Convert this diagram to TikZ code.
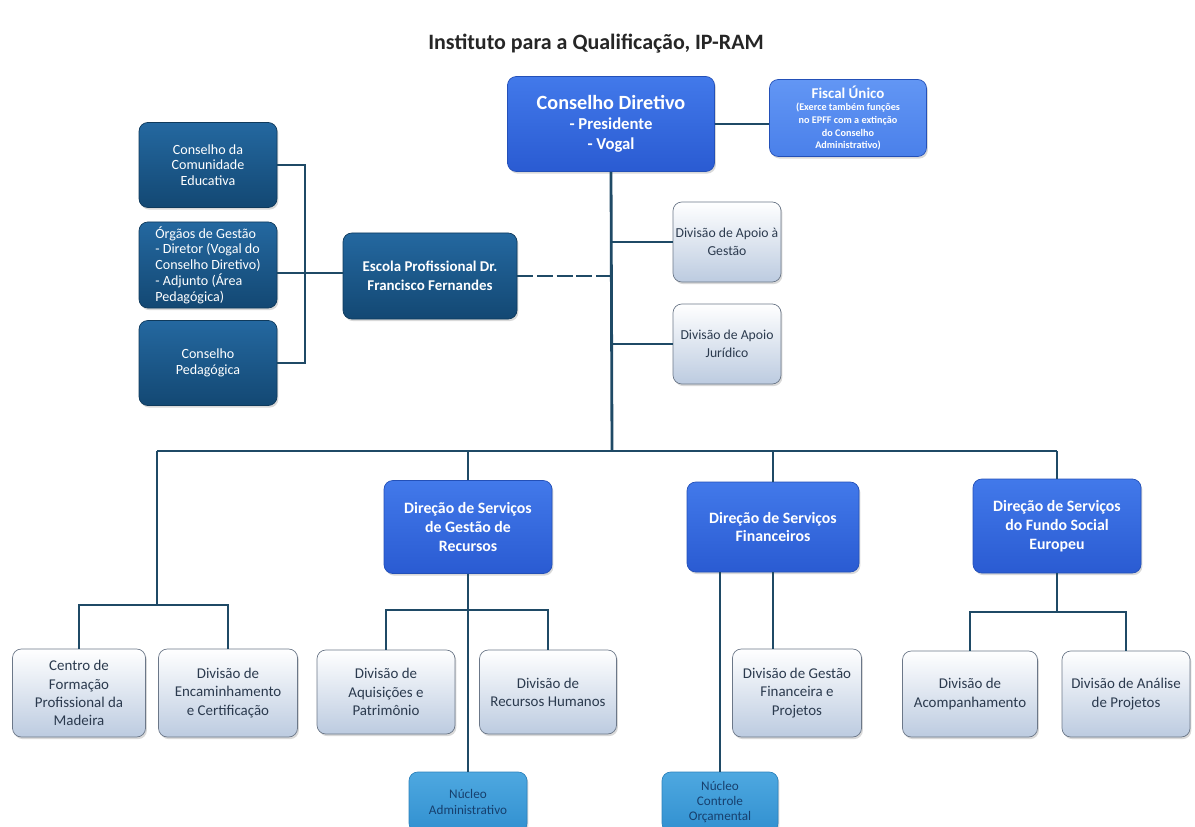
\documentclass[tikz,border=0pt]{standalone}
\usepackage{fontspec}
\setmainfont{Carlito}
\usetikzlibrary{shadows}
\definecolor{lineNavy}{HTML}{1F4A66}
\definecolor{darkTop}{HTML}{2468A0}
\definecolor{darkBottom}{HTML}{134873}
\definecolor{darkEdge}{HTML}{0F3A5C}
\definecolor{blueTop}{HTML}{4279EA}
\definecolor{blueBottom}{HTML}{2A5BD2}
\definecolor{blueEdge}{HTML}{2350B8}
\definecolor{fiscalTop}{HTML}{6296F4}
\definecolor{fiscalBottom}{HTML}{4A80EA}
\definecolor{lightBottom}{HTML}{BCCBE0}
\definecolor{lightEdge}{HTML}{6B7788}
\definecolor{lightText}{HTML}{2B3A4E}
\definecolor{nucleoTop}{HTML}{4EA8E0}
\definecolor{nucleoBottom}{HTML}{3190D0}
\definecolor{nucleoEdge}{HTML}{2C82BC}
\definecolor{nucleoText}{HTML}{17406E}
\begin{document}
\begin{tikzpicture}
[x=0.02cm,y=-0.02cm,
  lineDecorate/.style={-,line width=1.6pt,draw=lineNavy},
  boxDecorate/.style={shape=rectangle,rounded corners=5pt,align=center,inner sep=1pt,
    drop shadow={opacity=0.3,shadow xshift=0.8pt,shadow yshift=-1.2pt}},
  darkDecorate/.style={boxDecorate,draw=darkEdge,top color=darkTop,bottom color=darkBottom,
    text=white,font=\fontsize{8}{9}\selectfont},
  blueDecorate/.style={boxDecorate,draw=blueEdge,top color=blueTop,bottom color=blueBottom,
    text=white,font=\bfseries\fontsize{9}{10.8}\selectfont},
  lightDecorate/.style={boxDecorate,draw=lightEdge,top color=white,bottom color=lightBottom,
    text=lightText,font=\fontsize{8.5}{10.4}\selectfont},
  nucleoDecorate/.style={boxDecorate,draw=nucleoEdge,top color=nucleoTop,bottom color=nucleoBottom,
    text=nucleoText,font=\fontsize{7.5}{8.8}\selectfont},
  scale=1]
\useasboundingbox (0,0) rectangle (1195,827);
%% title
\node (title) at (596,44) [text=black!85,font=\bfseries\fontsize{12.5}{14}\selectfont]
  {Instituto para a Qualificação, IP-RAM};
%% top boxes
\node (cdir) at (611,124) [blueDecorate,minimum width=207*0.02cm,minimum height=95*0.02cm,
  font=\bfseries\fontsize{9.5}{11.5}\selectfont]
  {{\fontsize{11.5}{14}\selectfont Conselho Diretivo}\\- Presidente\\- Vogal};
\node (fiscal) at (848,118) [boxDecorate,draw=blueEdge,top color=fiscalTop,bottom color=fiscalBottom,
  text=white,minimum width=157*0.02cm,minimum height=77*0.02cm,
  font=\bfseries\fontsize{5.8}{7.2}\selectfont]
  {{\fontsize{8.5}{10}\selectfont Fiscal Único}\\(Exerce também funções\\no EPFF com a extinção\\do Conselho\\Administrativo)};
%% left boxes
\foreach \nodename/\x/\y/\txt in {
  ccomun/208/165/{Conselho da\\Comunidade\\Educativa},
  cpedag/208/363/{Conselho\\Pedagógica}}
{
  \node (\nodename) at (\x,\y) [darkDecorate,minimum width=138*0.02cm,minimum height=85*0.02cm] {\txt};
}
\node (orgaos) at (208,265) [darkDecorate,align=left,minimum width=138*0.02cm,minimum height=86*0.02cm]
  {Órgãos de Gestão\\- Diretor (Vogal do\\Conselho Diretivo)\\- Adjunto (Área\\Pedagógica)};
\node (escola) at (430,276) [darkDecorate,minimum width=174*0.02cm,minimum height=86*0.02cm,
  font=\bfseries\fontsize{8.5}{10.5}\selectfont]
  {Escola Profissional Dr.\\Francisco Fernandes};
%% direcoes
\foreach \nodename/\x/\y/\w/\h/\txt in {
  dsgr/468/527/168/93/{Direção de Serviços\\de Gestão de\\Recursos},
  dsf/773/527/172/90/{Direção de Serviços\\Financeiros},
  dsfse/1057/526/168/94/{Direção de Serviços\\do Fundo Social\\Europeu}}
{
  \node (\nodename) at (\x,\y) [blueDecorate,minimum width=\w*0.02cm,minimum height=\h*0.02cm] {\txt};
}
%% divisoes
\foreach \nodename/\x/\y/\txt in {
  dag/727/242/{Divisão de Apoio à\\Gestão},
  daj/727/344/{Divisão de Apoio\\Jurídico}}
{
  \node (\nodename) at (\x,\y) [lightDecorate,font=\fontsize{7.8}{10}\selectfont,
    minimum width=108*0.02cm,minimum height=80*0.02cm] {\txt};
}
\foreach \nodename/\x/\y/\w/\h/\txt in {
  cfp/79/693/133/88/{Centro de\\Formação\\Profissional da\\Madeira},
  dec/228/693/139/88/{Divisão de\\Encaminhamento\\e Certificação},
  daqp/386/692/138/84/{Divisão de\\Aquisições e\\Patrimônio},
  drh/548/692/137/84/{Divisão de\\Recursos Humanos},
  dgfp/797/693/129/88/{Divisão de Gestão\\Financeira e\\Projetos},
  dacomp/970/694/135/86/{Divisão de\\Acompanhamento},
  dap/1126/694/128/86/{Divisão de Análise\\de Projetos}}
{
  \node (\nodename) at (\x,\y) [lightDecorate,minimum width=\w*0.02cm,minimum height=\h*0.02cm] {\txt};
}
%% nucleos
\node (nadm) at (468,802) [nucleoDecorate,minimum width=118*0.02cm,minimum height=60*0.02cm]
  {Núcleo\\Administrativo};
\node (ncorc) at (720,802) [nucleoDecorate,minimum width=116*0.02cm,minimum height=60*0.02cm]
  {Núcleo\\Controle\\Orçamental};
%% junction points
\coordinate (hub) at (612,451);
\coordinate (busL) at (157,451);
\coordinate (brk) at (305,273);
\coordinate (lsub) at (157,605);
\coordinate (msub) at (468,610);
\coordinate (rsub) at (1057,612);
%% edges or lines
\draw[lineDecorate] (cdir.east) -- (cdir.east -| fiscal.west);
\draw[lineDecorate] (cdir.south) -- (hub);
\draw[lineDecorate] (busL) -- (dsfse.north |- hub);
\draw[lineDecorate] (dag.west) -- (dag.west -| hub);
\draw[lineDecorate] (daj.west) -- (daj.west -| hub);
\draw[lineDecorate,dash pattern=on 9pt off 2.2pt] (escola.east) -- (escola.east -| hub);
\draw[lineDecorate] (ccomun.east) -| (brk) |- (cpedag.east);
\draw[lineDecorate] (orgaos.east |- brk) -- (escola.west |- brk);
\foreach \d in {dsgr,dsf,dsfse}
  \draw[lineDecorate] (\d.north |- hub) -- (\d.north);
\draw[lineDecorate] (busL) -- (lsub);
\draw[lineDecorate] (dsgr.south) -- (nadm.north);
\draw[lineDecorate] (dsfse.south) -- (rsub);
\draw[lineDecorate] (dsf.south) -- (dsf.south |- dgfp.north);
\draw[lineDecorate] (ncorc.north |- dsf.south) -- (ncorc.north);
\foreach \startnode/\endnode/\bus in {cfp/dec/lsub, daqp/drh/msub, dacomp/dap/rsub}
  \draw[lineDecorate] (\startnode.north) -- (\startnode.north |- \bus)
    -- (\endnode.north |- \bus) -- (\endnode.north);
\end{tikzpicture}
\end{document}
